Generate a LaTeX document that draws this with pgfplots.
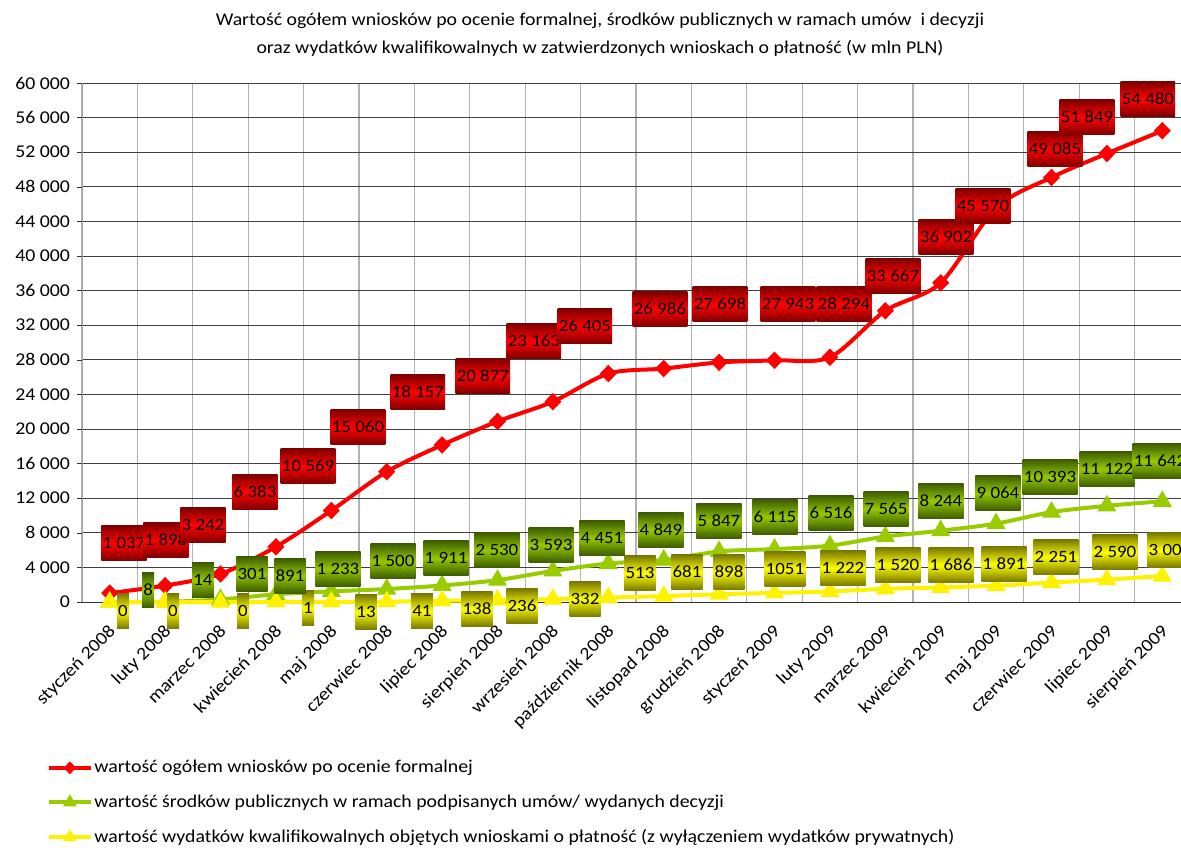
\documentclass[border=0pt]{standalone}
\usepackage{fontspec}
\setmainfont{Carlito}[FakeStretch=1.1]
\usepackage{pgfplots}
\pgfplotsset{compat=1.18}
\usepackage{pgfplotstable}

\definecolor{rdark}{RGB}{125,0,0}
\definecolor{gdark}{RGB}{60,92,0}
\definecolor{gmid}{RGB}{150,200,0}
\definecolor{ydark}{RGB}{120,120,0}
\definecolor{ymid}{RGB}{255,255,0}
\definecolor{lgreen}{RGB}{153,204,0}

\pgfplotstableread[col sep=comma]{
x,red,green,yellow
0,1037,8,0
1,1898,14,0
2,3242,301,0
3,6383,891,1
4,10569,1233,13
5,15060,1500,41
6,18157,1911,138
7,20877,2530,236
8,23163,3593,332
9,26405,4451,513
10,26986,4849,681
11,27698,5847,898
12,27943,6115,1051
13,28294,6516,1222
14,33667,7565,1520
15,36902,8244,1686
16,45570,9064,1891
17,49085,10393,2251
18,51849,11122,2590
19,54480,11642,3005
}\datatable

\pgfplotstableread[col sep=comma]{
lx,ly,lab
0.258,6820,1 037
1.016,7167,1 898
1.684,8901,3 242
2.623,12716,6 383
3.580,15722,10 569
4.482,20230,15 060
5.563,24276,18 157
6.736,26126,20 877
7.657,30172,23 163
8.578,31906,26 405
9.933,33871,26 986
11.016,34449,27 698
12.244,34449,27 943
13.254,34449,28 294
14.139,37686,33 667
15.096,42194,36 902
15.763,45778,45 570
17.063,52367,49 085
17.640,56066,51 849
18.740,58147,54 480
}\redlabels

\pgfplotstableread[col sep=comma]{
lx,ly,lab
0.693,1387,8
1.684,2543,14
2.569,3237,301
3.255,3006,891
4.121,3815,1 233
5.114,4740,1 500
6.071,5086,1 911
6.991,6011,2 530
7.966,6589,3 593
8.886,7398,4 451
9.951,8323,4 849
10.998,9364,5 847
12.009,9826,6 115
13.020,10288,6 516
14.013,10751,7 565
15.005,11676,8 244
16.034,12600,9 064
16.973,14450,10 393
18.001,15375,11 122
18.958,16300,11 642
}\greenlabels

\pgfplotstableread[col sep=comma]{
lx,ly,lab
0.240,-1040,0
1.143,-1040,0
2.406,-1040,0
3.580,-694,1
4.627,-1156,13
5.637,-1040,41
6.630,-809,138
7.442,-462,236
8.579,347,332
9.572,3352,513
10.420,3468,681
11.178,3468,898
12.188,3815,1051
13.236,3930,1 222
14.229,4277,1 520
15.186,4277,1 686
16.143,4393,1 891
17.081,5202,2 251
18.146,5780,2 590
19.139,6011,3 005
}\yellowlabels

\tikzset{
  lbl/.style={inner xsep=0.6pt, inner ysep=0pt, minimum height=17.5pt, text=black,
    font=\fontsize{8.6}{10}\selectfont, anchor=center},
  redbox/.style={lbl, top color=rdark, bottom color=rdark, middle color=red},
  greenbox/.style={lbl, top color=gdark, bottom color=gdark, middle color=gmid},
  yellowbox/.style={lbl, top color=ydark, bottom color=ydark, middle color=ymid},
}

\begin{document}
\begin{tikzpicture}
\begin{axis}[
  at={(41pt,122.5pt)}, anchor=south west,
  scale only axis, width=554pt, height=259.5pt,
  xmin=-0.5, xmax=19.5, ymin=0, ymax=60000,
  clip=false,
  axis lines*=left,
  x axis line style={black!80},
  y axis line style={gray!70},
  xtick={0,...,19},
  xticklabels={styczeń 2008,luty 2008,marzec 2008,kwiecień 2008,maj 2008,czerwiec 2008,lipiec 2008,sierpień 2008,wrzesień 2008,październik 2008,listopad 2008,grudzień 2008,styczeń 2009,luty 2009,marzec 2009,kwiecień 2009,maj 2009,czerwiec 2009,lipiec 2009,sierpień 2009},
  xtick style={draw=none},
  minor xtick={-0.5,0.5,...,19.5},
  xminorgrids=true,
  minor x grid style={gray!60, line width=0.6pt},
  minor x tick style={black!80},
  ytick={0,4000,...,60000},
  ymajorgrids=true,
  major y grid style={black!75, line width=0.5pt},
  ytick style={black!80},
  tick align=outside,
  major tick length=2.5pt, minor tick length=2.5pt,
  scaled y ticks=false,
  yticklabel style={font=\fontsize{9}{10}\selectfont, /pgf/number format/.cd, 1000 sep={\ }, assume math mode=true},
  xticklabel style={font=\fontsize{9}{10}\selectfont, rotate=45, anchor=north east, inner sep=1pt, xshift=-5.5pt, yshift=-4pt},
  tick label style={black},
  legend style={at={(-0.0316,-0.30)}, anchor=north west, draw=none, fill=none,
    font=\fontsize{9}{10}\selectfont, row sep=7.5pt, inner sep=0pt,
    nodes={inner sep=1pt}},
  legend cell align=left,
  legend image code/.code={\draw[mark repeat=2,mark phase=2,#1,/tikz/every mark/.append style={scale=0.7}] plot coordinates {(0pt,0pt) (10.25pt,0pt) (20.5pt,0pt)};},
]
\addplot[color=red, line width=2pt, smooth, tension=0.5, mark=diamond*, mark size=4pt, mark options={xscale=1.3, fill=red, draw=red, line width=0.5pt}] table[x=x, y=red]{\datatable};
\addlegendentry{wartość ogółem wniosków po ocenie formalnej}
\addplot[color=lgreen, line width=2pt, smooth, tension=0.5, mark=triangle*, mark size=5pt, mark options={fill=lgreen, draw=lgreen, line width=0.5pt}] table[x=x, y=green]{\datatable};
\addlegendentry{wartość środków publicznych w ramach podpisanych umów/ wydanych decyzji}
\addplot[color=yellow, line width=2pt, smooth, tension=0.5, mark=triangle*, mark size=5pt, mark options={fill=yellow, draw=yellow, line width=0.5pt}] table[x=x, y=yellow]{\datatable};
\addlegendentry{wartość wydatków kwalifikowalnych objętych wnioskami o płatność (z wyłączeniem wydatków prywatnych)}

\addplot[forget plot, draw=none, mark=none, nodes near coords, point meta=explicit symbolic, nodes near coords style={yellowbox}] table[x=lx, y=ly, meta=lab]{\yellowlabels};
\addplot[forget plot, draw=none, mark=none, nodes near coords, point meta=explicit symbolic, nodes near coords style={greenbox}] table[x=lx, y=ly, meta=lab]{\greenlabels};
\addplot[forget plot, draw=none, mark=none, nodes near coords, point meta=explicit symbolic, nodes near coords style={redbox}] table[x=lx, y=ly, meta=lab]{\redlabels};
\end{axis}
\node[align=center, font=\fontsize{9}{14}\selectfont] at (300pt,406pt) {Wartość ogółem wniosków po ocenie formalnej, środków publicznych w ramach umów\ \ i decyzji\\oraz wydatków kwalifikowalnych w zatwierdzonych wnioskach o płatność (w mln PLN)};
\pgfresetboundingbox
\useasboundingbox (0,0) rectangle (590.5pt,423.5pt);
\end{tikzpicture}
\end{document}
